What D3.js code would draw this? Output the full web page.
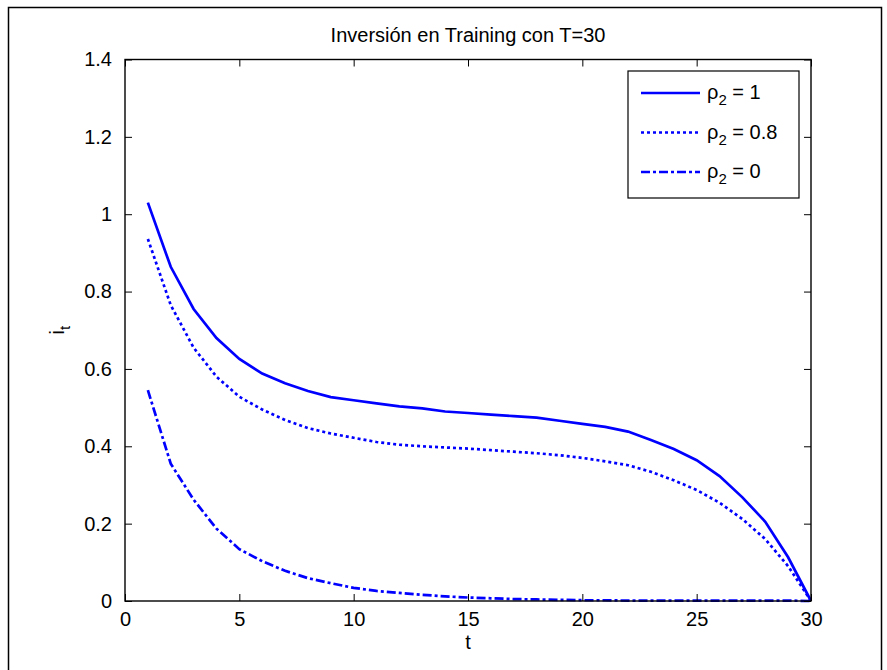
<!DOCTYPE html>
<html>
<head>
<meta charset="utf-8">
<script src="https://cdn.jsdelivr.net/npm/d3@7"></script>
<style>
  body { margin: 0; background: #fff; }
  text { font-family: "Liberation Sans", Arial, sans-serif; fill: #000; }
</style>
</head>
<body>
<svg id="chart" width="887" height="670"></svg>
<script>
// values
const tValues = d3.range(1, 31);
const rho1 = [1.03, 0.864, 0.755, 0.68, 0.626, 0.588, 0.563, 0.543, 0.527, 0.519,
  0.511, 0.503, 0.498, 0.49, 0.486, 0.482, 0.478, 0.474, 0.466, 0.458,
  0.45, 0.438, 0.416, 0.393, 0.364, 0.323, 0.268, 0.205, 0.113, 0];
const rho08 = [0.936, 0.765, 0.655, 0.58, 0.528, 0.495, 0.468, 0.447, 0.433, 0.422,
  0.411, 0.404, 0.4, 0.397, 0.394, 0.39, 0.386, 0.382, 0.377, 0.37,
  0.361, 0.351, 0.334, 0.312, 0.287, 0.254, 0.212, 0.16, 0.09, 0];
const rho0 = [0.545, 0.355, 0.262, 0.187, 0.134, 0.103, 0.078, 0.059, 0.046, 0.034,
  0.026, 0.021, 0.016, 0.012, 0.009, 0.007, 0.005, 0.004, 0.003, 0.002,
  0.002, 0.001, 0.001, 0.001, 0.001, 0.001, 0.001, 0.001, 0.001, 0];
const seriesNames = ["1", "0.8", "0"];
const dashes = [null, "3,3", "9,3,3,3"];
const xTicks = [0, 5, 10, 15, 20, 25, 30];
const yTicks = [0, 0.2, 0.4, 0.6, 0.8, 1, 1.2, 1.4];

const svg = d3.select("#chart");
const margin = { top: 59.5, right: 76, bottom: 69, left: 125 };
const width = 887 - margin.left - margin.right;
const height = 670 - margin.top - margin.bottom;
const fontSize = "20px";

// figure border
svg.append("rect")
  .attr("x", 8.5).attr("y", 7.5)
  .attr("width", 873).attr("height", 670)
  .attr("fill", "none").attr("stroke", "#000").attr("stroke-width", 1.5);

const x = d3.scaleLinear().domain([0, 30]).range([0, width]);
const y = d3.scaleLinear().domain([0, 1.4]).range([height, 0]);

const g = svg.append("g")
  .attr("transform", `translate(${margin.left},${margin.top})`);

// lines
const line = d3.line()
  .x((d, i) => x(tValues[i]))
  .y((d) => y(d));

[rho1, rho08, rho0].forEach((s, k) => {
  g.append("path")
    .datum(s)
    .attr("d", line)
    .attr("fill", "none")
    .attr("stroke", "#0000ff")
    .attr("stroke-width", 2.7)
    .attr("stroke-dasharray", dashes[k]);
});

// box + inward ticks on all sides (MATLAB look)
const tickLen = 7;
const axisStyle = (sel) => {
  sel.select(".domain").remove();
  sel.selectAll(".tick line").attr("stroke", "#000").attr("stroke-width", 1);
  sel.selectAll(".tick text")
    .style("font-size", fontSize)
    .style("font-family", '"Liberation Sans", Arial, sans-serif');
};

g.append("g")
  .attr("transform", `translate(0,${height})`)
  .call(d3.axisBottom(x).tickValues(xTicks).tickSize(-tickLen).tickPadding(11).tickFormat(d3.format("d")))
  .call(axisStyle);

g.append("g")
  .call(d3.axisTop(x).tickValues(xTicks).tickSize(-tickLen).tickFormat(""))
  .call(axisStyle);

g.append("g")
  .call(d3.axisLeft(y).tickValues(yTicks).tickSize(-tickLen).tickPadding(13).tickFormat((d) => d3.format("~g")(d)))
  .call(axisStyle);

g.append("g")
  .attr("transform", `translate(${width},0)`)
  .call(d3.axisRight(y).tickValues(yTicks).tickSize(-tickLen).tickFormat(""))
  .call(axisStyle);

g.append("rect")
  .attr("width", width).attr("height", height)
  .attr("fill", "none").attr("stroke", "#000").attr("stroke-width", 1.4);

// title and labels
svg.append("text")
  .attr("x", margin.left + width / 2).attr("y", 42)
  .attr("text-anchor", "middle")
  .style("font-size", fontSize)
  .text("Inversión en Training con T=30");

svg.append("text")
  .attr("x", margin.left + width / 2).attr("y", 649)
  .attr("text-anchor", "middle")
  .style("font-size", fontSize)
  .text("t");

const yl = svg.append("text")
  .attr("transform", `translate(64,${margin.top + height / 2}) rotate(-90)`)
  .attr("text-anchor", "middle")
  .style("font-size", fontSize);
yl.append("tspan").text("i");
yl.append("tspan").attr("dy", 6).style("font-size", "15px").text("t");

// legend
const lg = svg.append("g").attr("transform", "translate(628,71)");
lg.append("rect")
  .attr("width", 171).attr("height", 127)
  .attr("fill", "#fff").attr("stroke", "#000").attr("stroke-width", 1.2);

seriesNames.forEach((name, k) => {
  const ry = 22 + k * 39.5;
  lg.append("line")
    .attr("x1", 13).attr("x2", 72)
    .attr("y1", ry).attr("y2", ry)
    .attr("stroke", "#0000ff").attr("stroke-width", 2.7)
    .attr("stroke-dasharray", dashes[k]);
  const t = lg.append("text")
    .attr("x", 79).attr("y", ry + 6)
    .style("font-size", fontSize);
  t.append("tspan").text("ρ");
  t.append("tspan").attr("dy", 6).style("font-size", "15px").text("2");
  t.append("tspan").attr("dy", -6).text(" = " + name);
});
</script>
</body>
</html>
